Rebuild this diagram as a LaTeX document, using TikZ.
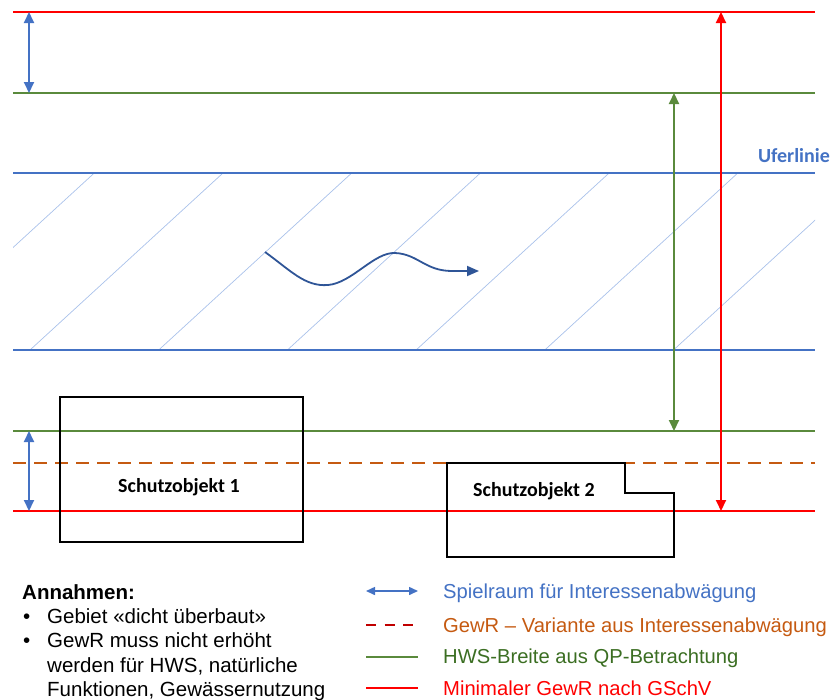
\documentclass[tikz,border=0pt]{standalone}
\usepackage{fontspec}
\setmainfont{Liberation Sans}
\newfontfamily\carl{Carlito}
\usetikzlibrary{arrows.meta}
\definecolor{cred}{HTML}{FF0000}
\definecolor{cgreen}{HTML}{5A8A3C}
\definecolor{cblue}{HTML}{4472C4}
\definecolor{corange}{HTML}{C55A11}
\definecolor{chatch}{HTML}{A9C1EA}
\definecolor{cwave}{HTML}{2F5597}
\definecolor{cdash}{HTML}{C00000}
\definecolor{cgtext}{HTML}{3B6E22}
\tikzset{
  hline/.style={line width=1.5pt},
  redline/.style={hline, draw=cred},
  greenline/.style={hline, draw=cgreen},
  blueline/.style={hline, draw=cblue},
  dashline/.style={hline, draw=corange, dash pattern=on 13pt off 8pt},
  hatchline/.style={line width=0.7pt, draw=chatch},
  dimarrow/.style={line width=2pt, {Triangle[length=11pt,width=10pt]}-{Triangle[length=11pt,width=10pt]}},
  legarrow/.style={line width=1.5pt, {Triangle[length=9pt,width=8pt]}-{Triangle[length=9pt,width=8pt]}},
  objbox/.style={draw=black, line width=1.5pt},
  objlabel/.style={font=\carl\bfseries\fontsize{20}{24}\selectfont, inner sep=0pt, anchor=base west},
  legtext/.style={font=\fontsize{20.2}{24}\selectfont, inner sep=0pt, anchor=base west},
  anntext/.style={font=\fontsize{20.5}{24}\selectfont, inner sep=0pt, anchor=base west},
}
\begin{document}
\begin{tikzpicture}[x=1pt,y=-1pt]
\useasboundingbox (0,0) rectangle (835,699);
% hatching
\begin{scope}
\clip (13,173) rectangle (815,350);
\foreach \k in {-1,...,5} {
  \draw[hatchline] ({30+128.7*\k},350) -- ({223+128.7*\k},173);
}
\end{scope}
% horizontal lines
\draw[redline] (13,12) -- (815,12);
\draw[greenline] (13,93) -- (815,93);
\draw[blueline] (13,173) -- (815,173);
\draw[blueline] (13,350) -- (815,350);
\draw[greenline] (13,431) -- (815,431);
\draw[dashline] (13,463) -- (815,463);
\draw[redline] (13,511) -- (815,511);
% label
\node[objlabel, text=cblue, anchor=base east] (ufer) at (830,162) {Uferlinie};
% dimension arrows
\coordinate (a1t) at (29,12); \coordinate (a1b) at (29,93);
\coordinate (a2t) at (29,431); \coordinate (a2b) at (29,511);
\coordinate (gt) at (674,93); \coordinate (gb) at (674,431);
\coordinate (rt) at (721,12); \coordinate (rb) at (721,511);
\draw[dimarrow, cblue] (a1t) -- (a1b);
\draw[dimarrow, cblue] (a2t) -- (a2b);
\draw[dimarrow, cgreen] (gt) -- (gb);
\draw[dimarrow, cred] (rt) -- (rb);
% flow arrow
\coordinate (ws) at (265,252); \coordinate (we) at (479,271);
\draw[line width=1.8pt, cwave, -{Triangle[length=12pt,width=10pt]}]
  (ws) .. controls (290,270) and (305,287) .. (328,285)
  .. controls (352,283) and (374,252) .. (395,253)
  .. controls (418,254) and (425,271) .. (452,271) -- (we);
% objects
\node[objbox, minimum width=243pt, minimum height=145pt, inner sep=0pt] (so1) at (181.5,469.5) {};
\node[objlabel] (so1l) at (118,492) {Schutzobjekt 1};
\draw[objbox] (447,463) -- (625,463) -- (625,493) -- (674,493) -- (674,557) -- (447,557) -- cycle;
\node[objlabel] (so2l) at (473,496) {Schutzobjekt 2};
% legend
\coordinate (l1a) at (366,591); \coordinate (l1b) at (418,591);
\coordinate (l2a) at (366,625); \coordinate (l2b) at (418,625);
\coordinate (l3a) at (366,657); \coordinate (l3b) at (418,657);
\coordinate (l4a) at (366,688); \coordinate (l4b) at (418,688);
\draw[legarrow, cblue] (l1a) -- (l1b);
\draw[line width=1.5pt, cdash, dash pattern=on 10pt off 8.5pt] (l2a) -- (l2b);
\draw[line width=1.5pt, cgreen] (l3a) -- (l3b);
\draw[line width=1.5pt, cred] (l4a) -- (l4b);
\node[legtext, text=cblue] (t1) at (443,598) {Spielraum für Interessenabwägung};
\node[legtext, text=corange] (t2) at (443,632) {GewR – Variante aus Interessenabwägung};
\node[legtext, text=cgtext] (t3) at (443,663) {HWS-Breite aus QP-Betrachtung};
\node[legtext, text=cred] (t4) at (443,695) {Minimaler GewR nach GSchV};
% assumptions
\node[anntext, font=\bfseries\fontsize{20.5}{24}\selectfont] (ann) at (22,599) {Annahmen:};
\node[anntext] (b1) at (23,623) {•};
\node[anntext] (b1t) at (47,623) {Gebiet «dicht überbaut»};
\node[anntext] (b2) at (23,647.5) {•};
\node[anntext] (b2t) at (47,647.5) {GewR muss nicht erhöht};
\node[anntext] (b2u) at (47,672) {werden für HWS, natürliche};
\node[anntext] (b2v) at (47,696) {Funktionen, Gewässernutzung};
\end{tikzpicture}
\end{document}
